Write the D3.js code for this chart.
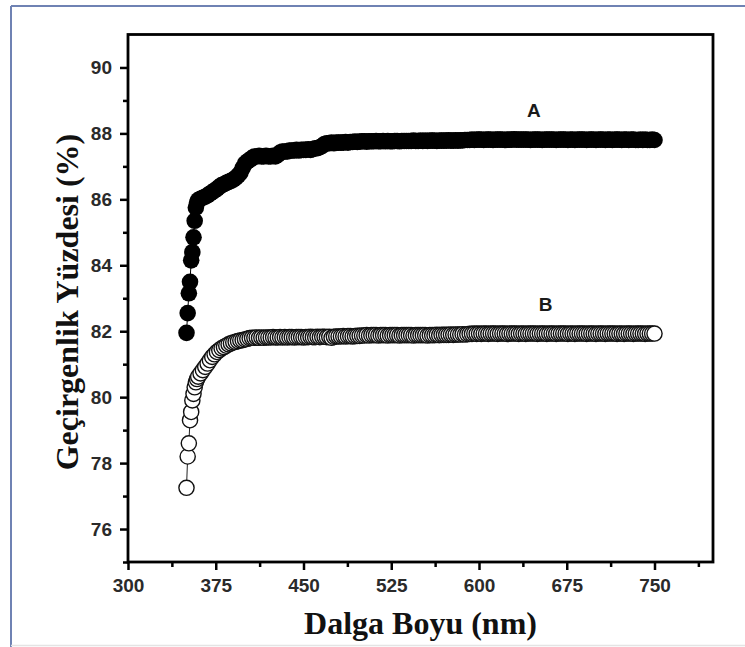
<!DOCTYPE html>
<html lang="tr">
<head>
<meta charset="utf-8">
<title>Geçirgenlik</title>
<script src="https://d3js.org/d3.v7.min.js" charset="utf-8"></script>
<style type="text/css">
  body { margin: 0; background: #fff; }
  svg { display: block; }
  .tick text {
    font-family: "Liberation Sans", Arial, sans-serif;
    font-weight: bold;
    fill: #2a2a2a;
  }
  .tick line { stroke: #000; stroke-width: 2.5; }
  .axis-title {
    font-family: "Liberation Serif", "Times New Roman", serif;
    font-weight: bold;
    fill: #111;
  }
</style>
</head>
<body>
<script>
// wavelength grid (nm): 1 nm steps at the steep start, 2 nm afterwards
var wavelength = d3.range(350, 360).concat(d3.range(360, 751, 2));

// curve A (filled dots)
var seriesA = [
  81.95, 82.55, 83.15, 83.5, 84.15, 84.4, 84.85, 85.35, 85.75, 85.9,
  85.98, 86.02, 86.05, 86.08, 86.12, 86.17, 86.22, 86.27, 86.32, 86.38,
  86.43, 86.46, 86.5, 86.53, 86.56, 86.6, 86.65, 86.72, 86.8, 86.95,
  87.08, 87.15, 87.2, 87.25, 87.3, 87.3, 87.32, 87.3, 87.3, 87.32,
  87.3, 87.3, 87.32, 87.3, 87.35, 87.42, 87.45, 87.45, 87.45, 87.48,
  87.48, 87.48, 87.5, 87.48, 87.5, 87.5, 87.5, 87.52, 87.5, 87.52,
  87.55, 87.55, 87.58, 87.62, 87.68, 87.7, 87.7, 87.72, 87.7, 87.72,
  87.72, 87.72, 87.72, 87.74, 87.72, 87.74, 87.74, 87.75, 87.74, 87.75,
  87.76, 87.76, 87.75, 87.76, 87.76, 87.76, 87.77, 87.76, 87.76, 87.77,
  87.76, 87.77, 87.76, 87.76, 87.77, 87.77, 87.76, 87.77, 87.77, 87.77,
  87.77, 87.77, 87.78, 87.77, 87.77, 87.78, 87.77, 87.78, 87.77, 87.78,
  87.78, 87.78, 87.77, 87.78, 87.78, 87.78, 87.78, 87.79, 87.78, 87.78,
  87.79, 87.78, 87.79, 87.79, 87.8, 87.8, 87.8, 87.81, 87.8, 87.81,
  87.81, 87.81, 87.8, 87.81, 87.81, 87.81, 87.8, 87.81, 87.81, 87.81,
  87.81, 87.8, 87.81, 87.81, 87.81, 87.82, 87.81, 87.81, 87.81, 87.81,
  87.81, 87.81, 87.8, 87.81, 87.81, 87.81, 87.81, 87.8, 87.81, 87.81,
  87.81, 87.81, 87.81, 87.8, 87.81, 87.81, 87.81, 87.81, 87.8, 87.81,
  87.81, 87.8, 87.81, 87.81, 87.81, 87.81, 87.8, 87.81, 87.81, 87.81,
  87.8, 87.81, 87.81, 87.81, 87.8, 87.81, 87.81, 87.8, 87.81, 87.81,
  87.81, 87.8, 87.81, 87.81, 87.8, 87.81, 87.81, 87.8, 87.8, 87.81,
  87.8, 87.81, 87.8, 87.8, 87.81, 87.8
];

// curve B (open dots)
var seriesB = [
  77.25, 78.2, 78.6, 79.3, 79.55, 79.9, 80.1, 80.3, 80.45, 80.55,
  80.62, 80.72, 80.82, 80.92, 81.02, 81.12, 81.22, 81.3, 81.37, 81.43,
  81.48, 81.52, 81.56, 81.6, 81.63, 81.66, 81.68, 81.7, 81.72, 81.73,
  81.75, 81.77, 81.79, 81.8, 81.8, 81.81, 81.8, 81.81, 81.8, 81.81,
  81.81, 81.81, 81.82, 81.81, 81.81, 81.82, 81.81, 81.82, 81.81, 81.82,
  81.82, 81.81, 81.82, 81.82, 81.82, 81.81, 81.82, 81.82, 81.83, 81.82,
  81.82, 81.83, 81.82, 81.83, 81.83, 81.82, 81.83, 81.8, 81.83, 81.84,
  81.84, 81.84, 81.85, 81.84, 81.85, 81.85, 81.84, 81.85, 81.86, 81.86,
  81.87, 81.87, 81.88, 81.87, 81.88, 81.88, 81.88, 81.87, 81.88, 81.88,
  81.88, 81.87, 81.88, 81.88, 81.88, 81.88, 81.87, 81.88, 81.88, 81.88,
  81.88, 81.88, 81.87, 81.88, 81.88, 81.88, 81.88, 81.88, 81.87, 81.88,
  81.88, 81.88, 81.89, 81.88, 81.89, 81.89, 81.89, 81.89, 81.9, 81.89,
  81.9, 81.9, 81.9, 81.91, 81.9, 81.91, 81.92, 81.92, 81.93, 81.92,
  81.93, 81.92, 81.93, 81.93, 81.92, 81.93, 81.93, 81.93, 81.92, 81.93,
  81.93, 81.93, 81.92, 81.93, 81.93, 81.93, 81.93, 81.92, 81.93, 81.93,
  81.92, 81.93, 81.93, 81.93, 81.93, 81.92, 81.93, 81.93, 81.93, 81.92,
  81.93, 81.93, 81.93, 81.92, 81.93, 81.93, 81.93, 81.93, 81.92, 81.93,
  81.93, 81.92, 81.93, 81.93, 81.93, 81.93, 81.92, 81.93, 81.93, 81.93,
  81.92, 81.93, 81.93, 81.93, 81.92, 81.93, 81.93, 81.93, 81.93, 81.92,
  81.93, 81.93, 81.92, 81.93, 81.93, 81.93, 81.92, 81.93, 81.93, 81.93,
  81.93, 81.92, 81.93, 81.93, 81.93, 81.93
];

var xTicks = [300, 375, 450, 525, 600, 675, 750];
var xMinor = [337.5, 412.5, 487.5, 562.5, 637.5, 712.5, 787.5];
var yTicks = [76, 78, 80, 82, 84, 86, 88, 90];
var yMinor = [75, 77, 79, 81, 83, 85, 87, 89];
var seriesNames = ["A", "B"];
var nameAt = [[647, 88.5], [657, 82.6]];   // label anchors in data units

var width = 745;
var height = 647;
var plotLeft = 128, plotRight = 713, plotTop = 34.5, plotBottom = 562;

var svg = d3.select("body")
  .append("svg")
  .attr("width", width)
  .attr("height", height);

// page frame (blue-grey on top/left, faint grey at the bottom)
svg.append("line").attr("x1", 11).attr("x2", width).attr("y1", 6).attr("y2", 6)
  .attr("stroke", "#6f82b3").attr("stroke-width", 2);
svg.append("line").attr("x1", 11).attr("x2", 11).attr("y1", 6).attr("y2", height)
  .attr("stroke", "#6f82b3").attr("stroke-width", 2);
svg.append("line").attr("x1", 11).attr("x2", width).attr("y1", 645.5).attr("y2", 645.5)
  .attr("stroke", "#e4e4e4").attr("stroke-width", 1.5);

var x = d3.scaleLinear().domain([300, 800]).range([plotLeft, plotRight]);
var y = d3.scaleLinear().domain([75, 91]).range([plotBottom, plotTop]);

// axes
var xAxis = svg.append("g")
  .attr("transform", "translate(0," + plotBottom + ")")
  .call(d3.axisBottom(x).tickValues(xTicks).tickSize(8).tickPadding(9));
xAxis.selectAll("text").attr("font-size", 19);

svg.append("g")
  .attr("transform", "translate(0," + plotBottom + ")")
  .call(d3.axisBottom(x).tickValues(xMinor).tickSize(5).tickFormat(""));

var yAxis = svg.append("g")
  .attr("transform", "translate(" + plotLeft + ",0)")
  .call(d3.axisLeft(y).tickValues(yTicks).tickSize(8).tickPadding(8));
yAxis.selectAll("text").attr("font-size", 19);

svg.append("g")
  .attr("transform", "translate(" + plotLeft + ",0)")
  .call(d3.axisLeft(y).tickValues(yMinor).tickSize(5).tickFormat(""));

svg.selectAll(".domain").remove();

// plot box
svg.append("rect")
  .attr("x", plotLeft).attr("y", plotTop)
  .attr("width", plotRight - plotLeft).attr("height", plotBottom - plotTop)
  .attr("fill", "none")
  .attr("stroke", "#000")
  .attr("stroke-width", 2.8);

var line = d3.line()
  .x(function(d, i) { return x(wavelength[i]); })
  .y(function(d) { return y(d); });

// curve A
svg.append("path")
  .attr("d", line(seriesA))
  .attr("fill", "none")
  .attr("stroke", "#000")
  .attr("stroke-width", 1);

svg.append("g").selectAll("circle")
  .data(seriesA)
  .enter()
  .append("circle")
  .attr("cx", function(d, i) { return x(wavelength[i]); })
  .attr("cy", function(d) { return y(d); })
  .attr("r", 8.3)
  .attr("fill", "#000");

// curve B
svg.append("path")
  .attr("d", line(seriesB))
  .attr("fill", "none")
  .attr("stroke", "#222")
  .attr("stroke-width", 1);

svg.append("g").selectAll("circle")
  .data(seriesB)
  .enter()
  .append("circle")
  .attr("cx", function(d, i) { return x(wavelength[i]); })
  .attr("cy", function(d) { return y(d); })
  .attr("r", 7.6)
  .attr("fill", "#fff")
  .attr("stroke", "#111")
  .attr("stroke-width", 1.4);

// series names
svg.selectAll(".series-name")
  .data(seriesNames)
  .enter()
  .append("text")
  .attr("class", "series-name")
  .attr("x", function(d, i) { return x(nameAt[i][0]); })
  .attr("y", function(d, i) { return y(nameAt[i][1]); })
  .attr("text-anchor", "middle")
  .attr("font-family", "Liberation Sans, Arial, sans-serif")
  .attr("font-weight", "bold")
  .attr("font-size", 19)
  .attr("fill", "#1a1a1a")
  .text(function(d) { return d; });

// axis titles
svg.append("text")
  .attr("class", "axis-title")
  .attr("x", (plotLeft + plotRight) / 2)
  .attr("y", 634)
  .attr("text-anchor", "middle")
  .attr("font-size", 32)
  .text("Dalga Boyu (nm)");

svg.append("text")
  .attr("class", "axis-title")
  .attr("transform", "translate(78,302) rotate(-90)")
  .attr("text-anchor", "middle")
  .attr("font-size", 32)
  .text("Geçirgenlik Yüzdesi (%)");
</script>
</body>
</html>
